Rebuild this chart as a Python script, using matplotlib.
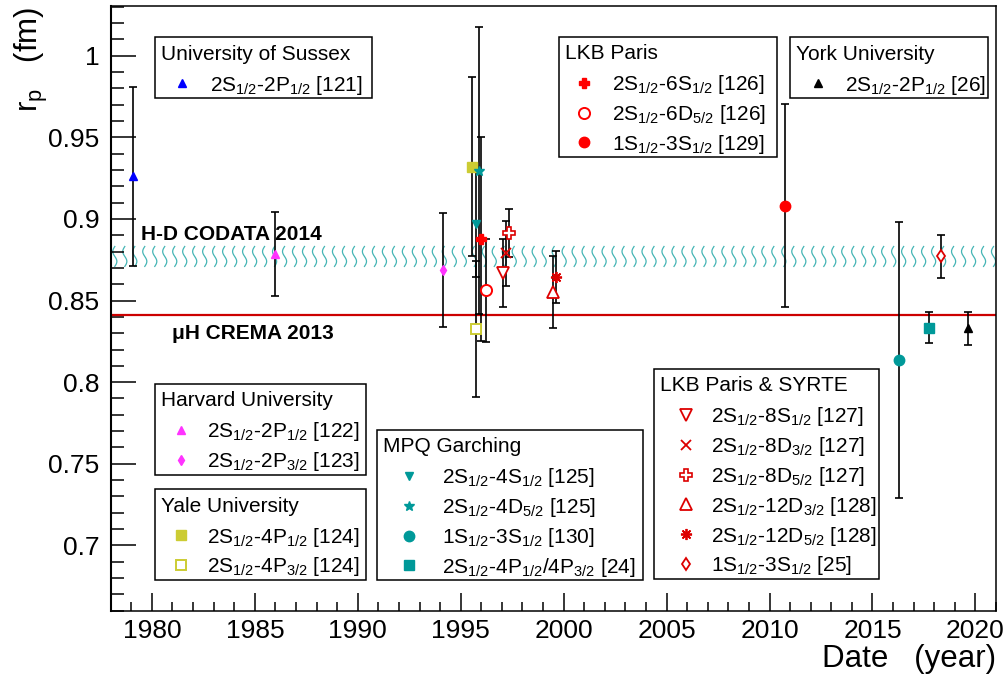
import numpy as np
import matplotlib
matplotlib.use("Agg")
import matplotlib.pyplot as plt
from matplotlib.patches import Rectangle
from matplotlib.lines import Line2D
from matplotlib.ticker import MultipleLocator, FormatStrFormatter

plt.rcParams["font.family"] = ["Liberation Sans", "DejaVu Sans"]
plt.rcParams["mathtext.fontset"] = "custom"
plt.rcParams["mathtext.rm"] = "Liberation Sans"
plt.rcParams["mathtext.it"] = "Liberation Sans:italic"
plt.rcParams["mathtext.bf"] = "Liberation Sans:bold"

# ---- data: proton radius from hydrogen spectroscopy, by group ----
sussex_labels = [r"2S$_{1/2}$-2P$_{1/2}$ [121]"]
sussex_year = [1979.08]
sussex_rp = [0.926]
sussex_err = [0.055]

lkb_labels = [r"2S$_{1/2}$-6S$_{1/2}$ [126]", r"2S$_{1/2}$-6D$_{5/2}$ [126]",
              r"1S$_{1/2}$-3S$_{1/2}$ [129]"]
lkb_year = [1996.0, 1996.21, 2010.74]
lkb_rp = [0.8876, 0.8562, 0.9082]
lkb_err = [0.0624, 0.0316, 0.062]

york_labels = [r"2S$_{1/2}$-2P$_{1/2}$ [26]"]
york_year = [2019.64]
york_rp = [0.833]
york_err = [0.010]

harvard_labels = [r"2S$_{1/2}$-2P$_{1/2}$ [122]", r"2S$_{1/2}$-2P$_{3/2}$ [123]"]
harvard_year = [1985.98, 1994.14]
harvard_rp = [0.8787, 0.8689]
harvard_err = [0.0258, 0.035]

yale_labels = [r"2S$_{1/2}$-4P$_{1/2}$ [124]", r"2S$_{1/2}$-4P$_{3/2}$ [124]"]
yale_year = [1995.57, 1995.72]
yale_rp = [0.932, 0.8326]
yale_err = [0.055, 0.0414]

mpq_labels = [r"2S$_{1/2}$-4S$_{1/2}$ [125]", r"2S$_{1/2}$-4D$_{5/2}$ [125]",
              r"1S$_{1/2}$-3S$_{1/2}$ [130]", r"2S$_{1/2}$-4P$_{1/2}$/4P$_{3/2}$ [24]"]
mpq_year = [1995.72, 1995.88, 2016.30, 2017.74]
mpq_rp = [0.897, 0.9296, 0.8138, 0.8334]
mpq_err = [0.0326, 0.088, 0.0846, 0.0095]

syrte_labels = [r"2S$_{1/2}$-8S$_{1/2}$ [127]", r"2S$_{1/2}$-8D$_{3/2}$ [127]",
                r"2S$_{1/2}$-8D$_{5/2}$ [127]", r"2S$_{1/2}$-12D$_{3/2}$ [128]",
                r"2S$_{1/2}$-12D$_{5/2}$ [128]", r"1S$_{1/2}$-3S$_{1/2}$ [25]"]
syrte_year = [1997.05, 1997.18, 1997.37, 1999.47, 1999.64, 2018.32]
syrte_rp = [0.8668, 0.879, 0.8913, 0.8552, 0.8644, 0.877]
syrte_err = [0.0208, 0.0199, 0.0149, 0.0218, 0.0159, 0.013]

codata_rp, codata_err = 0.877, 0.0061
crema_rp = 0.8409

# ---- marker styles ----
BLUE, MAG, OLIVE, TEAL = "#0000ff", "#ff33ff", "#cccc33", "#009999"
RED, DRED = "#ff0000", "#dd0000"
sussex_marks = [dict(marker="^", color=BLUE, ms=6)]
lkb_marks = [dict(marker="P", color=RED, ms=7),
             dict(marker="o", color=RED, mfc="white", mew=1.4, ms=8),
             dict(marker="o", color=RED, ms=7.5)]
york_marks = [dict(marker="^", color="black", ms=6)]
harvard_marks = [dict(marker="^", color=MAG, ms=6),
                 dict(marker="d", color=MAG, ms=5.5)]
yale_marks = [dict(marker="s", color=OLIVE, ms=6.5),
              dict(marker="s", color=OLIVE, mfc="white", mew=1.4, ms=7)]
mpq_marks = [dict(marker="v", color=TEAL, ms=6),
             dict(marker="*", color=TEAL, ms=7),
             dict(marker="o", color=TEAL, ms=7.5),
             dict(marker="s", color=TEAL, ms=7)]
syrte_marks = [dict(marker="v", color=DRED, mfc="white", mew=1.3, ms=8.5),
               dict(marker="x", color=DRED, mew=1.3, ms=6.5),
               dict(marker="P", color=DRED, mfc="white", mew=1.2, ms=9),
               dict(marker="^", color=DRED, mfc="white", mew=1.3, ms=8),
               dict(marker=(8, 2, 0), color=DRED, mew=1.3, ms=8),
               dict(marker="d", color=DRED, mfc="white", mew=1.3, ms=6.5)]

W, H = 1008, 684
FS = 15
fig = plt.figure(figsize=(W / 100, H / 100), dpi=100)
ax = fig.add_axes([110.7 / W, 1 - 610.7 / H, 885.3 / W, 604.5 / H])

# CODATA band drawn as a wavy hatch, CREMA as a line
wave_t = np.linspace(0, 1, 25)
for x0 in np.arange(1978.2, 2021, 0.485):
    ax.plot(x0 + 0.1 * np.sin(2 * np.pi * wave_t),
            codata_rp - codata_err + 2 * codata_err * wave_t,
            color="#45b5b5", lw=0.9, zorder=1, clip_on=True)
ax.axhline(crema_rp, color="#cc0000", lw=1.6, zorder=2)
ax.text(1979.47, 0.8872, "H-D CODATA 2014", fontsize=FS, fontweight="bold")
ax.text(1980.97, 0.8267, "μH CREMA 2013", fontsize=FS, fontweight="bold")

groups = [
    ("University of Sussex", sussex_labels, sussex_year, sussex_rp, sussex_err, sussex_marks, (155, 37.3, 372, 27, 55)),
    ("LKB Paris", lkb_labels, lkb_year, lkb_rp, lkb_err, lkb_marks, (559, 36.7, 777, 25.3, 52.7)),
    ("York University", york_labels, york_year, york_rp, york_err, york_marks, (790, 37.3, 988, 28, 55)),
    ("Harvard University", harvard_labels, harvard_year, harvard_rp, harvard_err, harvard_marks, (155, 384, 366, 26, 51.7)),
    ("Yale University", yale_labels, yale_year, yale_rp, yale_err, yale_marks, (155, 489.3, 366, 26, 51.7)),
    ("MPQ Garching", mpq_labels, mpq_year, mpq_rp, mpq_err, mpq_marks, (376.7, 430, 643.3, 32.7, 65)),
    ("LKB Paris & SYRTE", syrte_labels, syrte_year, syrte_rp, syrte_err, syrte_marks, (654, 369, 879, 31.7, 57)),
]


def fx(px):
    return px / W


def fy(py):
    return 1 - py / H


for title, labels, years, rps, errs, marks, (left, top, right, mdx, tdx) in groups:
    for yr, rp, er, mk in zip(years, rps, errs, marks):
        ax.errorbar([yr], [rp], yerr=[er], fmt="none", ecolor="black",
                    elinewidth=1.2, capsize=2.7, capthick=1.2, zorder=3)
        ax.plot([yr], [rp], linestyle="none", zorder=4, **mk)

    # legend box, ROOT-style
    n = len(labels)
    bottom = top + 46 + 29.8 * (n - 1) + 15
    fig.add_artist(Rectangle((fx(left), fy(bottom)), fx(right) - fx(left),
                             fy(top) - fy(bottom), transform=fig.transFigure,
                             facecolor="white", edgecolor="black", lw=1.1, zorder=5))
    fig.text(fx(left + 6), fy(top + 15 + 7.4), title, fontsize=FS,
             va="baseline", zorder=6)
    for k, (lab, mk) in enumerate(zip(labels, marks)):
        yc = top + 46 + 29.8 * k
        fig.add_artist(Line2D([fx(left + mdx)], [fy(yc)], transform=fig.transFigure,
                              linestyle="none", zorder=6, **mk))
        fig.text(fx(left + tdx), fy(yc + 7.4), lab, fontsize=FS,
                 va="baseline", zorder=6)

ax.set_xlim(1978, 2021)
ax.set_ylim(0.66, 1.0303)
ax.xaxis.set_major_locator(MultipleLocator(5))
ax.xaxis.set_minor_locator(MultipleLocator(1))
ax.yaxis.set_major_locator(MultipleLocator(0.05))
ax.yaxis.set_minor_locator(MultipleLocator(0.01))
ax.yaxis.set_major_formatter(FormatStrFormatter("%g"))
ax.tick_params(axis="both", which="both", direction="in", top=False, right=False,
               width=1.1, labelsize=19)
ax.tick_params(axis="x", which="major", length=13, pad=6)
ax.tick_params(axis="x", which="minor", length=6.5)
ax.tick_params(axis="y", which="major", length=18, pad=8)
ax.tick_params(axis="y", which="minor", length=9)
for sp in ax.spines.values():
    sp.set_linewidth(1.1)
ax.spines["left"].set_linewidth(1.5)

ax.set_xlabel("Date   (year)", fontsize=22.5, loc="right", labelpad=1)
ax.set_ylabel(r"r$_{\rm p}$   (fm)", fontsize=22.5, loc="top", labelpad=-1)

fig.savefig("out.png", dpi=100)
